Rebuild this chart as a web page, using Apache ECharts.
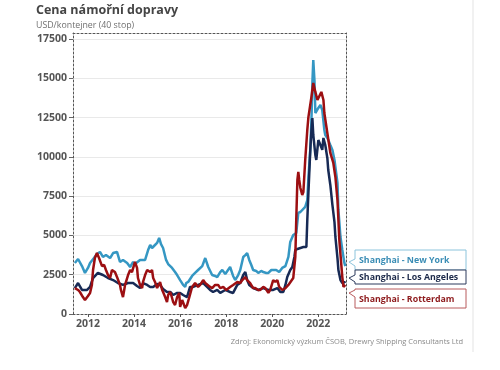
<!DOCTYPE html>
<html>
<head>
<meta charset="utf-8">
<script src="https://cdn.jsdelivr.net/npm/echarts@6/dist/echarts.min.js"></script>
<style>html,body{margin:0;padding:0;background:#fff;}#c{width:500px;height:370px;}</style>
</head>
<body>
<div id="c"></div>
<script>
const titleText = 'Cena námořní dopravy';
const unitText = 'USD/kontejner (40 stop)';
const sourceText = 'Zdroj: Ekonomický výzkum ČSOB, Drewry Shipping Consultants Ltd';
const seriesNames = ['Shanghai - New York', 'Shanghai - Los Angeles', 'Shanghai - Rotterdam'];
const yearTicks = [2012, 2014, 2016, 2018, 2020, 2022];
const valueTicks = [0, 2500, 5000, 7500, 10000, 12500, 15000, 17500];

const nyDates = [2011.43,2011.57,2011.74,2011.87,2012.00,2012.09,2012.26,2012.39,2012.52,2012.65,2012.78,2012.96,2013.09,2013.26,2013.39,2013.52,2013.70,2013.83,2013.96,2014.04,2014.26,2014.48,2014.61,2014.70,2014.78,2014.91,2015.00,2015.09,2015.17,2015.26,2015.39,2015.48,2015.65,2015.78,2015.87,2016.00,2016.13,2016.22,2016.26,2016.35,2016.52,2016.65,2016.78,2016.96,2017.09,2017.22,2017.39,2017.52,2017.61,2017.74,2017.83,2017.96,2018.04,2018.17,2018.30,2018.39,2018.52,2018.61,2018.74,2018.83,2018.91,2019.00,2019.09,2019.17,2019.30,2019.39,2019.52,2019.61,2019.74,2019.83,2019.96,2020.04,2020.17,2020.30,2020.43,2020.57,2020.70,2020.78,2020.91,2021.04,2021.13,2021.22,2021.30,2021.43,2021.52,2021.57,2021.65,2021.70,2021.74,2021.78,2021.83,2021.87,2021.91,2022.00,2022.09,2022.13,2022.17,2022.26,2022.30,2022.39,2022.43,2022.52,2022.61,2022.70,2022.74,2022.83,2022.87,2022.96,2023.04,2023.13,2023.17];
const nyValues = [3250,3500,3050,2610,2930,3250,3560,3820,3950,3630,3750,3560,3880,3950,3310,3440,3250,2990,3310,3180,3440,3440,4070,4390,4200,4390,4520,4840,4450,4200,3440,3180,2930,2670,2480,2160,1850,1720,1970,2040,2420,2610,2800,3050,3560,2990,2480,2420,2350,2670,2800,2550,2610,2990,2420,2160,2480,2800,3630,3750,3880,3440,3120,2800,2740,2610,2740,2670,2610,2610,2800,2800,2800,2670,2930,3050,3630,4580,5030,5150,6430,6490,6490,6810,7250,8720,10440,12350,14700,16160,14890,12790,12850,13110,13300,13360,12980,11710,11390,11200,11070,10750,10440,9800,9350,8340,6620,4900,4070,3250,3050];

const laDates = [2011.43,2011.57,2011.74,2011.96,2012.09,2012.22,2012.43,2012.65,2012.87,2013.09,2013.30,2013.52,2013.74,2013.96,2014.13,2014.26,2014.39,2014.57,2014.70,2014.83,2015.00,2015.13,2015.26,2015.43,2015.57,2015.70,2015.87,2016.00,2016.13,2016.30,2016.43,2016.57,2016.78,2017.00,2017.17,2017.30,2017.43,2017.61,2017.74,2017.96,2018.17,2018.30,2018.48,2018.61,2018.74,2018.83,2018.91,2019.00,2019.17,2019.39,2019.61,2019.83,2020.04,2020.22,2020.35,2020.48,2020.57,2020.65,2020.78,2020.87,2020.96,2021.00,2021.09,2021.22,2021.35,2021.48,2021.52,2021.57,2021.65,2021.70,2021.74,2021.78,2021.87,2021.91,2022.00,2022.09,2022.17,2022.22,2022.30,2022.39,2022.43,2022.52,2022.61,2022.70,2022.74,2022.83,2022.87,2022.96,2023.04,2023.13,2023.17];
const laValues = [1650,1970,1530,1530,1720,2290,2610,2480,2290,2160,1970,1850,1970,1970,1780,1650,1970,1850,1720,1720,1910,1850,1590,1400,1400,1210,1340,1340,1210,1080,1720,1720,1850,1970,1720,1530,1400,1530,1340,1530,1400,1340,1850,1970,2480,2670,2160,1850,1650,1530,1650,1530,1530,1650,1400,1400,1850,2350,2800,2990,3630,4070,4140,4200,4260,4260,5980,7760,10440,11710,12470,11390,10120,9800,11070,10750,10440,11200,10750,9930,9160,8210,6940,5850,4900,3560,2800,2160,1970,2040,1970];

const rtDates = [2011.43,2011.57,2011.65,2011.78,2011.87,2012.00,2012.09,2012.17,2012.22,2012.30,2012.39,2012.48,2012.52,2012.61,2012.70,2012.78,2012.87,2012.96,2013.04,2013.17,2013.26,2013.39,2013.43,2013.52,2013.61,2013.74,2013.83,2013.91,2014.04,2014.13,2014.17,2014.26,2014.35,2014.39,2014.48,2014.57,2014.70,2014.78,2014.83,2014.91,2015.00,2015.13,2015.22,2015.26,2015.35,2015.43,2015.48,2015.57,2015.65,2015.70,2015.78,2015.87,2015.96,2016.00,2016.09,2016.22,2016.30,2016.39,2016.52,2016.65,2016.78,2016.87,2017.00,2017.09,2017.17,2017.30,2017.39,2017.52,2017.65,2017.74,2017.87,2018.00,2018.17,2018.30,2018.48,2018.61,2018.70,2018.83,2018.91,2019.04,2019.17,2019.26,2019.39,2019.48,2019.61,2019.70,2019.83,2019.91,2020.04,2020.13,2020.22,2020.30,2020.43,2020.57,2020.70,2020.78,2020.91,2021.00,2021.04,2021.09,2021.13,2021.17,2021.22,2021.30,2021.35,2021.43,2021.52,2021.57,2021.70,2021.78,2021.87,2021.96,2022.04,2022.13,2022.22,2022.26,2022.39,2022.52,2022.65,2022.74,2022.83,2022.91,2023.04,2023.09,2023.17];
const rtValues = [1650,1530,1400,1080,890,1150,1340,1850,2800,3560,3880,3560,3440,3050,3120,2800,2480,2290,2800,2670,2350,1850,1530,1080,1850,2480,2800,2670,3310,2930,2290,1850,1650,2040,2480,2800,2670,2800,2290,2040,1650,2040,1530,1400,1080,760,1210,1400,1020,760,570,1080,1340,450,890,380,570,1020,1720,1970,1720,1850,2160,1970,1850,1720,1650,1850,1850,1650,1720,1530,1720,1850,2040,1970,2160,2350,2160,1970,1650,1650,1530,1530,1720,1650,1340,1530,2160,2040,2160,1720,1530,1650,1850,1970,2290,3630,5980,8530,9040,8530,8020,7570,7760,9800,11710,12540,13810,14700,14130,13620,13620,14130,13620,12790,11520,10250,9610,8720,7250,4710,2350,1720,1850];

const zip = (d, v) => d.map((x, i) => [x, v[i]]);
const colors = ['#3597c3', '#172a55', '#9c0f12'];
const textColors = ['#3a8db5', '#1d2a4a', '#8e1a1c'];
const borderColors = ['#8cc4dc', '#2c3a5c', '#b85a5c'];

const chart = echarts.init(document.getElementById('c'), null, {renderer: 'canvas'});
const FONT = '"Open Sans", "DejaVu Sans", sans-serif';
const dashed = {show: true, onZero: false, lineStyle: {color: '#555', width: 1, type: [2, 2]}};

function callout(i, y0, y1, notchY) {
  const x0 = 355, x1 = 466;
  return {
    type: 'group',
    children: [
      {type: 'polygon', shape: {points: [[x0, y0], [x1, y0], [x1, y1], [x0, y1], [x0, notchY + 4], [x0 - 6, notchY], [x0, notchY - 3]]},
       style: {fill: '#fff', stroke: borderColors[i], lineWidth: 1}},
      {type: 'text', x: 359, y: (y0 + y1) / 2 + 0.5, style: {text: seriesNames[i], fill: textColors[i], font: 'bold 8.8px ' + FONT, textVerticalAlign: 'middle'}}
    ]
  };
}

chart.setOption({
  animation: false,
  textStyle: {fontFamily: FONT},
  title: [
    {text: titleText, subtext: unitText, left: 36, top: 4, itemGap: 4, padding: 0,
     textStyle: {fontSize: 12.5, fontWeight: 'bold', color: '#454545', fontFamily: FONT},
     subtextStyle: {fontSize: 8.8, color: '#707070', fontFamily: FONT}},
    {text: sourceText, right: 37, top: 338, padding: 0,
     textStyle: {fontSize: 7.5, fontWeight: 'normal', color: '#8a8a8a', fontFamily: FONT}}
  ],
  grid: {left: 73, right: 154, top: 33, bottom: 56, containLabel: false},
  xAxis: [
    {type: 'value', min: 2011.35, max: 2023.2, position: 'bottom',
     axisLine: dashed,
     axisTick: {show: true, length: 3, customValues: yearTicks, lineStyle: {color: '#555'}},
     axisLabel: {customValues: yearTicks, formatter: v => String(v), color: '#555', fontWeight: 'bold', fontSize: 10.5, margin: 5, fontFamily: FONT},
     splitLine: {show: false}},
    {type: 'value', min: 2011.35, max: 2023.2, position: 'top',
     axisLine: dashed, axisTick: {show: false}, axisLabel: {show: false}, splitLine: {show: false}}
  ],
  yAxis: [
    {type: 'value', min: 0, max: 17880, interval: 2500, position: 'left',
     axisLine: dashed,
     axisTick: {show: true, length: 4, customValues: valueTicks, lineStyle: {color: '#666'}},
     axisLabel: {customValues: valueTicks, formatter: v => String(v), color: '#555', fontWeight: 'bold', fontSize: 10.5, margin: 6, fontFamily: FONT},
     splitLine: {show: true, lineStyle: {color: '#e9e9e9', width: 1}}},
    {type: 'value', min: 0, max: 17880, position: 'right',
     axisLine: dashed, axisTick: {show: false}, axisLabel: {show: false}, splitLine: {show: false}}
  ],
  series: [
    {name: seriesNames[0], type: 'line', data: zip(nyDates, nyValues), showSymbol: false, symbol: 'none',
     lineStyle: {color: colors[0], width: 2.5}, itemStyle: {color: colors[0]}, z: 2},
    {name: seriesNames[1], type: 'line', data: zip(laDates, laValues), showSymbol: false, symbol: 'none',
     lineStyle: {color: colors[1], width: 2.5}, itemStyle: {color: colors[1]}, z: 3},
    {name: seriesNames[2], type: 'line', data: zip(rtDates, rtValues), showSymbol: false, symbol: 'none',
     lineStyle: {color: colors[2], width: 2.5}, itemStyle: {color: colors[2]}, z: 4}
  ],
  graphic: [
    {type: 'line', shape: {x1: 473, y1: 0, x2: 473, y2: 352}, style: {stroke: '#f1f1f1', lineWidth: 2}},
    callout(0, 250, 270, 262),
    callout(1, 270, 284, 278),
    callout(2, 289, 308, 293)
  ]
});
</script>
</body>
</html>
